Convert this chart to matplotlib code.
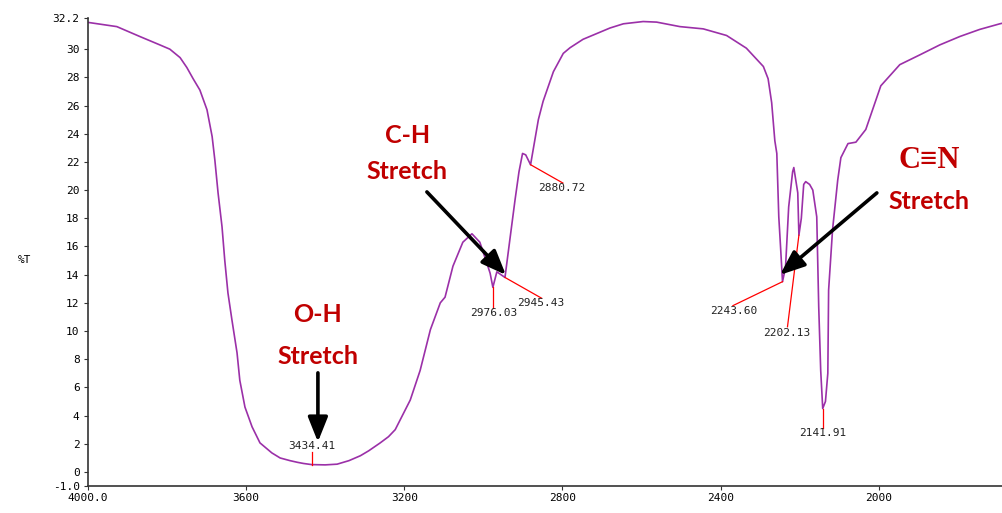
import matplotlib
matplotlib.use("Agg")
import matplotlib.pyplot as plt

# IR spectrum: wavenumber (cm-1) vs transmittance (%T)
wavenumber = [4000, 3927, 3869, 3818, 3793, 3767, 3750, 3734, 3717, 3699, 3686,
              3679, 3671, 3661, 3654, 3646, 3636, 3623, 3616, 3603, 3585, 3565,
              3535, 3514, 3489, 3470, 3455, 3434.41, 3400, 3370, 3340, 3311,
              3290, 3261, 3240, 3223, 3185, 3160, 3134, 3109, 3097, 3077, 3052,
              3029, 3009, 2991, 2983, 2976.03, 2966, 2945.43, 2933, 2920, 2910,
              2901, 2893, 2880.72, 2861, 2849, 2823, 2798, 2781, 2748, 2731,
              2680, 2646, 2596, 2562, 2503, 2444, 2385, 2335, 2292, 2280, 2271,
              2263, 2258, 2253, 2248, 2243.60, 2236, 2228, 2218, 2215, 2205,
              2202.13, 2196, 2190, 2185, 2175, 2167, 2157, 2152, 2147, 2141.91,
              2135, 2129, 2127, 2117, 2104, 2096, 2078, 2058, 2033, 1995, 1947,
              1896, 1846, 1795, 1745, 1694, 1686]
transmittance = [31.9, 31.6, 30.9, 30.3, 30.0, 29.4, 28.7, 27.9, 27.1, 25.7, 23.8,
                 22.1, 19.8, 17.4, 15.0, 12.7, 10.8, 8.45, 6.5, 4.6, 3.2, 2.06,
                 1.35, 0.99, 0.8, 0.68, 0.6, 0.52, 0.5, 0.55, 0.8, 1.15,
                 1.5, 2.06, 2.5, 3.0, 5.1, 7.2, 10.1, 12.0, 12.4, 14.6, 16.3,
                 16.9, 16.3, 14.8, 14.1, 13.1, 14.2, 13.8, 16.5, 19.3, 21.3,
                 22.6, 22.5, 21.8, 25.0, 26.3, 28.4, 29.7, 30.1, 30.7, 30.9,
                 31.5, 31.8, 31.96, 31.92, 31.6, 31.44, 30.97, 30.07, 28.77, 27.9, 26.2,
                 23.5, 22.6, 18.1, 15.7, 13.5, 14.5, 18.8, 21.3, 21.6, 19.8,
                 16.8, 18.0, 20.4, 20.6, 20.4, 20.0, 18.1, 11.7, 7.2, 4.5,
                 5.0, 7.0, 12.9, 17.2, 20.7, 22.3, 23.3, 23.4, 24.3, 27.4, 28.9,
                 29.6, 30.3, 30.9, 31.4, 31.8, 31.85]

# Labelled peaks
peak_wn = [3434.41, 2976.03, 2945.43, 2880.72, 2243.60, 2202.13, 2141.91]
peak_t = [0.52, 13.1, 13.8, 21.8, 13.5, 16.8, 4.5]
peak_labels = ["3434.41", "2976.03", "2945.43", "2880.72", "2243.60", "2202.13", "2141.91"]

# Where each peak's leader line ends and its label sits
leader_end = [(3434.41, 1.42), (2976.03, 11.6), (2853, 12.33), (2799, 20.5),
              (2369, 11.8), (2231, 10.3), (2141.91, 3.1)]
label_pos = [(3434, 1.85), (2975, 11.28), (2854, 12.0), (2801, 20.16),
             (2368, 11.43), (2232, 9.87), (2141.6, 2.77)]

x_ticks = [4000, 3600, 3200, 2800, 2400, 2000]
x_ticklabels = ["4000.0", "3600", "3200", "2800", "2400", "2000"]
y_ticks = [-1.0, 0, 2, 4, 6, 8, 10, 12, 14, 16, 18, 20, 22, 24, 26, 28, 30, 32.2]
y_ticklabels = ["-1.0"] + [str(v) for v in range(0, 31, 2)] + ["32.2"]

small_font = dict(family="DejaVu Sans Mono", size=8)
note_color = "#C00000"

fig = plt.figure(figsize=(10.03, 5.13), dpi=100)
ax = fig.add_axes([0.0877, 0.0526, 0.9123, 0.912])

ax.plot(wavenumber, transmittance, color="#9B30A8", lw=1.2,
        solid_joinstyle="round")
ax.set_xlim(4000, 1686)
ax.set_ylim(-1.0, 32.2)

for sp in ("top", "right"):
    ax.spines[sp].set_visible(False)
for sp in ("left", "bottom"):
    ax.spines[sp].set_color("#333333")
    ax.spines[sp].set_linewidth(1.2)

ax.set_xticks(x_ticks)
ax.set_xticklabels(x_ticklabels, **small_font)
ax.set_yticks(y_ticks)
ax.set_yticklabels(y_ticklabels, **small_font)
ax.tick_params(axis="both", length=3, width=0.8, color="#333333", pad=2)
ax.tick_params(axis="y", pad=3)

fig.text(25 / 1003, 1 - 260 / 513, "%T", ha="center", va="center", **small_font)

# Peak leader lines and values
for wn, t, (ex, ey), (lx, ly), txt in zip(peak_wn, peak_t, leader_end, label_pos, peak_labels):
    ax.plot([wn, ex], [t, ey], color="red", lw=0.9)
    ax.text(lx, ly, txt, ha="center", va="center", color="#222222", **small_font)

# Band assignments
label_font = dict(family="Lato", weight="bold", size=18, color=note_color,
                  ha="center", va="center")
ax.text(3418.5, 11.2, "O-H", **label_font)
ax.text(3418.5, 8.16, "Stretch", **label_font)
ax.text(3193, 23.9, "C-H", **label_font)
ax.text(3193, 21.3, "Stretch", **label_font)
ax.text(1873.6, 22.07, "C\u2261N", family=["Liberation Serif", "DejaVu Serif"],
        weight="bold", size=22, color=note_color, ha="center", va="center")
ax.text(1873.6, 19.16, "Stretch", **label_font)

arrow = dict(arrowstyle="-|>,head_length=0.75,head_width=0.3", color="black",
             lw=2.6, mutation_scale=20, shrinkA=0, shrinkB=0)
ax.annotate("", xy=(3418.5, 2.13), xytext=(3418.5, 7.03), arrowprops=arrow)
ax.annotate("", xy=(2943.1, 13.98), xytext=(3142.9, 19.87), arrowprops=arrow)
ax.annotate("", xy=(2250, 13.98), xytext=(2005, 19.8), arrowprops=arrow)

fig.savefig("out.png", dpi=100)
